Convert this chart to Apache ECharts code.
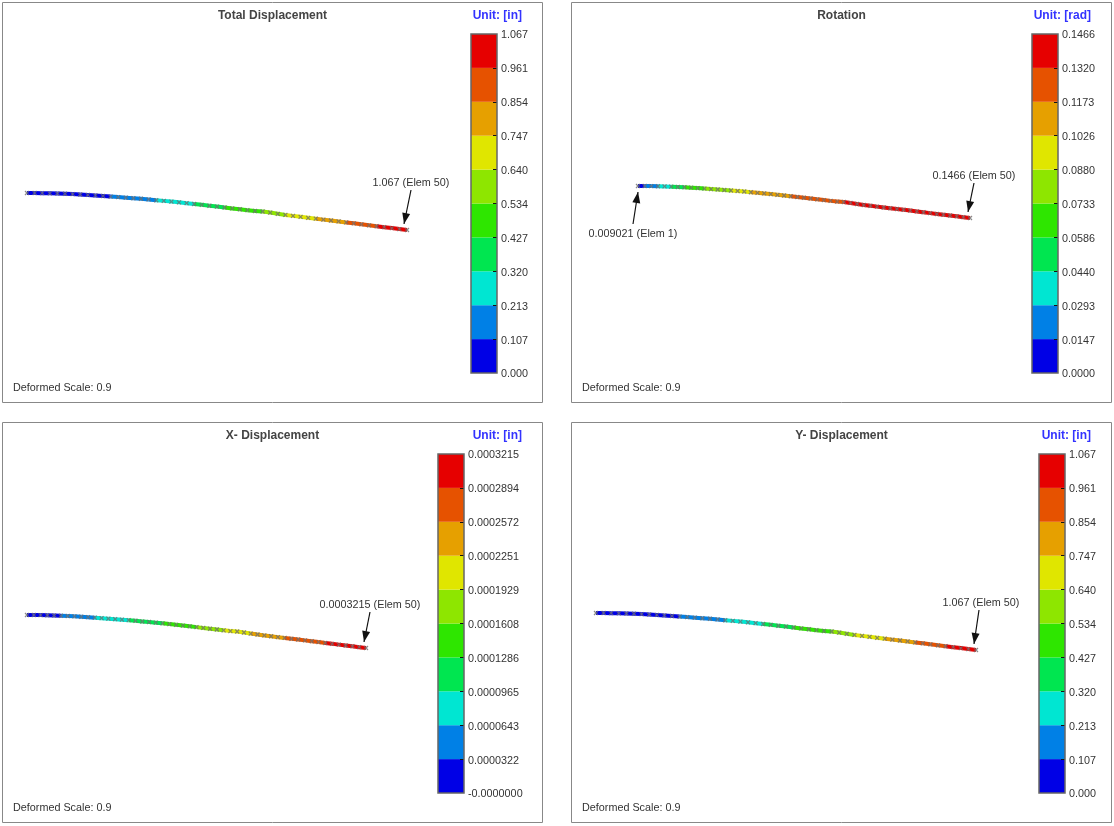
<!DOCTYPE html>
<html>
<head>
<meta charset="utf-8">
<style>
  html, body { margin: 0; padding: 0; background: #fff; }
  #box { width: 1114px; height: 826px; }
</style>
<script src="https://cdn.jsdelivr.net/npm/echarts@6/dist/echarts.min.js"></script>
</head>
<body>
<div id="box"></div>
<script>
// nodes 0..50 along the beam
const totalDisp = [0, 0.001, 0.004, 0.009, 0.015, 0.023, 0.032, 0.043, 0.056, 0.070, 0.086,
  0.103, 0.118, 0.134, 0.150, 0.167, 0.185, 0.209, 0.227, 0.247, 0.270,
  0.294, 0.318, 0.342, 0.367, 0.392, 0.418, 0.444, 0.470, 0.496, 0.520,
  0.534, 0.565, 0.600, 0.632, 0.660, 0.688, 0.716, 0.741, 0.768, 0.793,
  0.820, 0.848, 0.875, 0.904, 0.932, 0.958, 0.985, 1.012, 1.040, 1.067]
const yDisp = totalDisp.slice()
const rotation = [0.0090, 0.0150, 0.0225, 0.0295, 0.0370, 0.0442, 0.0515, 0.0588, 0.0638, 0.0688, 0.0735,
  0.0772, 0.0808, 0.0845, 0.0882, 0.0930, 0.0978, 0.1028, 0.1052, 0.1076, 0.1100,
  0.1125, 0.1150, 0.1175, 0.1193, 0.1211, 0.1229, 0.1247, 0.1265, 0.1283, 0.1301,
  0.1322, 0.1331, 0.1339, 0.1347, 0.1355, 0.1363, 0.1371, 0.1379, 0.1387, 0.1395,
  0.1403, 0.1411, 0.1419, 0.1427, 0.1434, 0.1441, 0.1448, 0.1454, 0.1460, 0.1466]
const xDisp = [0, 0.000006, 0.000013, 0.000019, 0.000026, 0.000032, 0.000038, 0.000045, 0.000051, 0.000058, 0.000064,
  0.000071, 0.000077, 0.000084, 0.000090, 0.000096, 0.000103, 0.000109, 0.000116, 0.000122, 0.000129,
  0.000135, 0.000141, 0.000148, 0.000154, 0.000161, 0.000169, 0.000177, 0.000185, 0.000193, 0.000201,
  0.000209, 0.000217, 0.000225, 0.000231, 0.000238, 0.000244, 0.000251, 0.000257, 0.000263, 0.000268,
  0.000273, 0.000279, 0.000284, 0.000289, 0.000295, 0.000300, 0.000305, 0.000311, 0.000316, 0.0003215]

const dispTicks = ['0.000', '0.107', '0.213', '0.320', '0.427', '0.534', '0.640', '0.747', '0.854', '0.961', '1.067']
const rotTicks = ['0.0000', '0.0147', '0.0293', '0.0440', '0.0586', '0.0733', '0.0880', '0.1026', '0.1173', '0.1320', '0.1466']
const xTicks = ['-0.0000000', '0.0000322', '0.0000643', '0.0000965', '0.0001286', '0.0001608', '0.0001929', '0.0002251', '0.0002572', '0.0002894', '0.0003215']

const bandColors = ['#0000e6', '#0080e6', '#00e6d2', '#00e650', '#2ee600', '#8ee600', '#e0e600', '#e6a000', '#e65200', '#e60000']

const FONT = '"Liberation Sans", Arial, sans-serif'

// layout of the four panels
const panels = [
  {
    title: 'Total Displacement', unit: 'Unit: [in]', values: totalDisp, ticks: dispTicks, max: 1.067,
    px: 2.5, py: 2.5, beam: [27, 193, 380, 37], bar: [471, 34],
    notes: [{ text: '1.067 (Elem 50)', label: [411, 183], from: [411, 190], to: [404, 224] }]
  },
  {
    title: 'Rotation', unit: 'Unit: [rad]', values: rotation, ticks: rotTicks, max: 0.1466,
    px: 571.5, py: 2.5, beam: [638, 186, 332, 32], bar: [1032, 34],
    notes: [
      { text: '0.1466 (Elem 50)', label: [974, 176], from: [974, 183], to: [968, 212] },
      { text: '0.009021 (Elem 1)', label: [633, 234], from: [633, 224], to: [638, 192] }
    ]
  },
  {
    title: 'X- Displacement', unit: 'Unit: [in]', values: xDisp, ticks: xTicks, max: 0.0003215,
    px: 2.5, py: 422.5, beam: [27, 615, 339, 33], bar: [438, 454],
    notes: [{ text: '0.0003215 (Elem 50)', label: [370, 605], from: [370, 612], to: [364, 642] }]
  },
  {
    title: 'Y- Displacement', unit: 'Unit: [in]', values: yDisp, ticks: dispTicks, max: 1.067,
    px: 571.5, py: 422.5, beam: [596, 613, 380, 37], bar: [1039, 454],
    notes: [{ text: '1.067 (Elem 50)', label: [981, 603], from: [979, 610], to: [974, 644] }]
  }
]

const chart = echarts.init(document.getElementById('box'), null, { renderer: 'canvas' })

const grid = []
const xAxis = []
const yAxis = []
const series = []
const graphic = []

function arrowHead(from, to) {
  const a = Math.atan2(to[1] - from[1], to[0] - from[0])
  const len = 11
  const w = 4
  const bx = to[0] - len * Math.cos(a)
  const by = to[1] - len * Math.sin(a)
  return [to, [bx - w * Math.sin(a), by + w * Math.cos(a)], [bx + w * Math.sin(a), by - w * Math.cos(a)]]
}

panels.forEach(function (p) {
  const beamIdx = grid.length
  // beam grid, y is the deflection in inches
  grid.push({ left: p.beam[0], top: p.beam[1], width: p.beam[2], height: p.beam[3] })
  xAxis.push({ type: 'value', gridIndex: beamIdx, min: 0, max: 50, show: false })
  yAxis.push({ type: 'value', gridIndex: beamIdx, min: 0, max: 1.067, inverse: true, show: false })

  const step = p.max / 10
  const segs = []
  for (let i = 0; i < 50; i++) {
    const v = (p.values[i] + p.values[i + 1]) / 2
    segs.push([i, totalDisp[i], i + 1, totalDisp[i + 1], Math.min(9, Math.floor(v / step))])
  }
  series.push({
    type: 'custom',
    xAxisIndex: beamIdx,
    yAxisIndex: beamIdx,
    clip: false,
    silent: true,
    data: segs,
    renderItem: function (params, api) {
      const a = api.coord([api.value(0), api.value(1)])
      const b = api.coord([api.value(2), api.value(3)])
      return {
        type: 'line',
        shape: { x1: a[0], y1: a[1], x2: b[0], y2: b[1] },
        style: { stroke: bandColors[api.value(4)], lineWidth: 4 }
      }
    }
  })
  series.push({
    type: 'scatter',
    xAxisIndex: beamIdx,
    yAxisIndex: beamIdx,
    silent: true,
    symbol: 'path://M0 0L10 10M10 0L0 10',
    symbolSize: 4,
    itemStyle: { color: 'none', borderColor: '#6e6e6e', borderWidth: 1.2 },
    data: totalDisp.map(function (d, i) { return [i, d] }),
    z: 5
  })

  // colour bar, one stacked bar per band
  const barIdx = grid.length
  grid.push({ left: p.bar[0], top: p.bar[1], width: 26, height: 339 })
  xAxis.push({ type: 'category', gridIndex: barIdx, data: ['band'], show: false })
  yAxis.push({
    type: 'value',
    gridIndex: barIdx,
    position: 'right',
    min: 0,
    max: 10,
    interval: 1,
    z: 10,
    splitLine: { show: false },
    axisLine: { show: false },
    axisTick: { show: true, inside: true, length: 4, customValues: [1, 2, 3, 4, 5, 6, 7, 8, 9], lineStyle: { color: '#111', width: 1 } },
    axisLabel: {
      margin: 4,
      customValues: [0, 1, 2, 3, 4, 5, 6, 7, 8, 9, 10],
      formatter: function (v) { return '{t|' + p.ticks[v] + '}' },
      rich: {
        t: { color: '#333', fontSize: 10.8, fontFamily: FONT, padding: [3, 0, 0, 0] }
      }
    }
  })
  bandColors.forEach(function (c) {
    series.push({
      type: 'bar',
      xAxisIndex: barIdx,
      yAxisIndex: barIdx,
      stack: 'bar' + barIdx,
      silent: true,
      barWidth: '100%',
      itemStyle: { color: c },
      data: [1]
    })
  })

  // panel frame, bar frame and texts
  graphic.push({
    type: 'rect', silent: true, z: 0,
    shape: { x: p.px, y: p.py, width: 540, height: 400 },
    style: { fill: 'none', stroke: '#888', lineWidth: 1 }
  })
  graphic.push({
    type: 'rect', silent: true, z: 50,
    shape: { x: p.bar[0], y: p.bar[1], width: 26, height: 339 },
    style: { fill: 'none', stroke: '#666', lineWidth: 1.5 }
  })
  graphic.push({
    type: 'text', silent: true, z: 50, x: p.px + 270, y: p.py + 13,
    style: { text: p.title, fill: '#444', font: 'bold 12px ' + FONT, align: 'center', verticalAlign: 'middle' }
  })
  graphic.push({
    type: 'text', silent: true, z: 50, x: p.px + 519.5, y: p.py + 13,
    style: { text: p.unit, fill: '#3333ff', font: 'bold 12px ' + FONT, align: 'right', verticalAlign: 'middle' }
  })
  graphic.push({
    type: 'text', silent: true, z: 50, x: p.px + 10.5, y: p.py + 385.5,
    style: { text: 'Deformed Scale: 0.9', fill: '#333', font: '10.8px ' + FONT, align: 'left', verticalAlign: 'middle' }
  })

  p.notes.forEach(function (n) {
    graphic.push({
      type: 'text', silent: true, z: 50, x: n.label[0], y: n.label[1],
      style: { text: n.text, fill: '#333', font: '10.8px ' + FONT, align: 'center', verticalAlign: 'middle' }
    })
    graphic.push({
      type: 'line', silent: true, z: 50,
      shape: { x1: n.from[0], y1: n.from[1], x2: n.to[0], y2: n.to[1] },
      style: { stroke: '#111', lineWidth: 1.2 }
    })
    graphic.push({
      type: 'polygon', silent: true, z: 50,
      shape: { points: arrowHead(n.from, n.to) },
      style: { fill: '#111' }
    })
  })
})

chart.setOption({
  animation: false,
  backgroundColor: '#fff',
  grid: grid,
  xAxis: xAxis,
  yAxis: yAxis,
  series: series,
  graphic: graphic
})
</script>
</body>
</html>
